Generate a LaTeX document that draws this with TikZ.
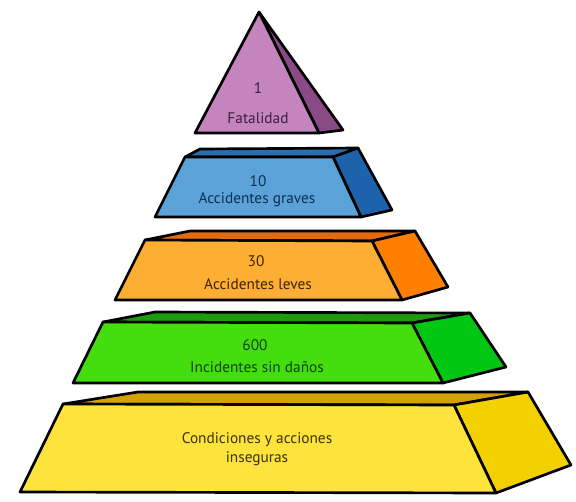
\documentclass[tikz,border=0pt]{standalone}
\usepackage{fontspec}
\setmainfont{PT Sans}
\usetikzlibrary{positioning}
\definecolor{fatalfront}{HTML}{C484BE}
\definecolor{fatalside}{HTML}{8A4A86}
\definecolor{fataltext}{HTML}{3B1F3F}
\definecolor{gravefront}{HTML}{5AA2D8}
\definecolor{gravetop}{HTML}{2A6DB2}
\definecolor{graveside}{HTML}{1E62AC}
\definecolor{gravetext}{HTML}{0E2E55}
\definecolor{levefront}{HTML}{FDAE33}
\definecolor{levetop}{HTML}{E26A10}
\definecolor{leveside}{HTML}{FF7F00}
\definecolor{levetext}{HTML}{3D2400}
\definecolor{incfront}{HTML}{44DE0E}
\definecolor{inctop}{HTML}{1E9A0E}
\definecolor{incside}{HTML}{00C812}
\definecolor{inctext}{HTML}{0E4410}
\definecolor{condfront}{HTML}{FDE33C}
\definecolor{condtop}{HTML}{D4A200}
\definecolor{condside}{HTML}{F3D000}
\definecolor{condtext}{HTML}{3A3200}
\tikzset{
  face/.style={
    draw=black,
    line width=2pt,
    line join=round
  },
  count/.style={
    font=\fontsize{11.5}{13}\selectfont,
    inner sep=1pt
  },
  tiertext/.style={
    font=\fontsize{11.5}{13}\selectfont,
    align=center,
    inner sep=1pt
  }
}

\begin{document}
\begin{tikzpicture}[x=0.75pt, y=-0.75pt]
  \useasboundingbox (0,0) rectangle (576,501);

  %===========================================================
  % Top: triangle (fatalities)
  %===========================================================
  \coordinate (apex)    at (259,12);
  \coordinate (tri_bl)  at (195,133);
  \coordinate (tri_br)  at (319,133);
  \coordinate (tri_bk)  at (343,130);
  \filldraw[face, fill=fatalside]  (apex) -- (tri_bk) -- (tri_br) -- cycle;
  \filldraw[face, fill=fatalfront] (apex) -- (tri_br) -- (tri_bl) -- cycle;
  \node[count, text=fataltext]    (fatal_n) at (258,88)  {1};
  \node[tiertext, text=fataltext] (fatal_t) at (258,118) {Fatalidad};

  %===========================================================
  % Tier 2: serious accidents
  %===========================================================
  \filldraw[face, fill=gravetop]   (185,157) -- (200,149) -- (358,148) -- (333,157) -- cycle;
  \filldraw[face, fill=graveside]  (333,157) -- (358,148) -- (392,210) -- (361,217) -- cycle;
  \filldraw[face, fill=gravefront] (185,157) -- (333,157) -- (361,217) -- (155,217) -- cycle;
  \node[count, text=gravetext]    (grave_n) at (258,181) {10};
  \node[tiertext, text=gravetext] (grave_t) at (257,200) {Accidentes graves};

  %===========================================================
  % Tier 3: minor accidents
  %===========================================================
  \filldraw[face, fill=levetop]   (145,240) -- (190,231) -- (415,231) -- (372,241) -- cycle;
  \filldraw[face, fill=leveside]  (372,241) -- (415,231) -- (448,287) -- (402,300) -- cycle;
  \filldraw[face, fill=levefront] (145,240) -- (372,241) -- (402,300) -- (115,300) -- cycle;
  \node[count, text=levetext]    (leve_n) at (256,261) {30};
  \node[tiertext, text=levetext] (leve_t) at (258,284) {Accidentes leves};

  %===========================================================
  % Tier 4: incidents without damage
  %===========================================================
  \filldraw[face, fill=inctop]   (103,322) -- (155,312) -- (470,313) -- (412,323) -- cycle;
  \filldraw[face, fill=incside]  (412,323) -- (470,313) -- (506,367) -- (443,383) -- cycle;
  \filldraw[face, fill=incfront] (103,322) -- (412,323) -- (443,383) -- (73,383) -- cycle;
  \node[count, text=inctext]    (inc_n) at (255,345) {600};
  \node[tiertext, text=inctext] (inc_t) at (257,367) {Incidentes sin daños};

  %===========================================================
  % Base: unsafe conditions and acts
  %===========================================================
  \filldraw[face, fill=condtop]   (63,404) -- (138,392) -- (528,392) -- (454,405) -- cycle;
  \filldraw[face, fill=condside]  (454,405) -- (528,392) -- (571,465) -- (496,493) -- cycle;
  \filldraw[face, fill=condfront] (63,404) -- (454,405) -- (496,493) -- (20,492) -- cycle;
  \node[tiertext, text=condtext] (cond_t) at (257,449)
    {Condiciones y acciones\\[1pt]inseguras};
\end{tikzpicture}
\end{document}
